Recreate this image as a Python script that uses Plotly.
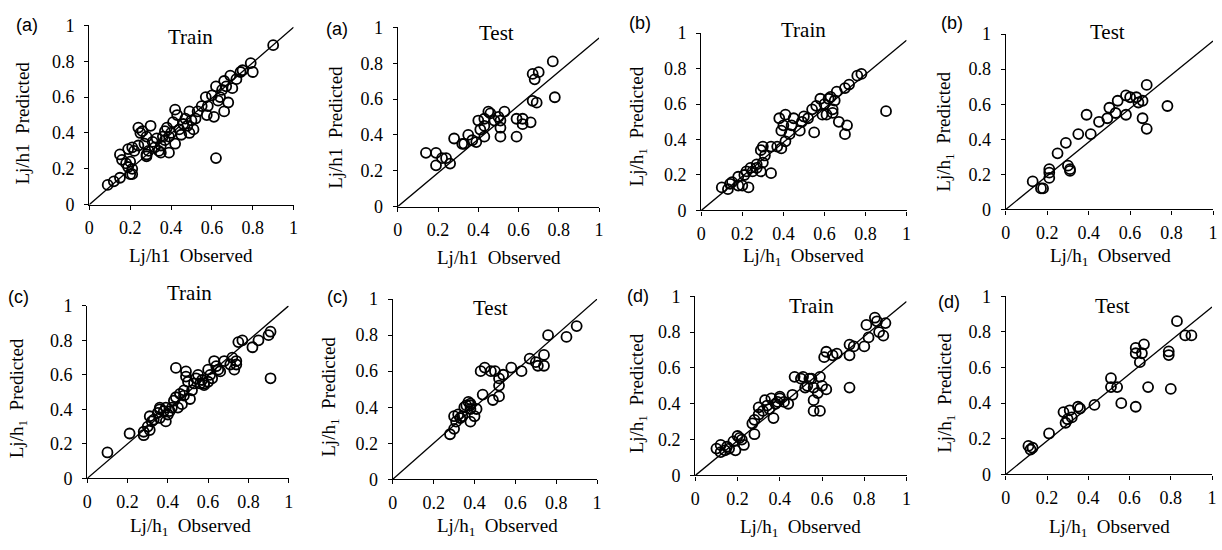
import plotly.graph_objects as go

W, H = 1222, 550

# ---- (a) Lj/h1 ----
a_train_obs = [0.09, 0.12, 0.15, 0.20, 0.21, 0.19, 0.21, 0.18, 0.16, 0.20,
               0.15, 0.19, 0.21, 0.24, 0.28, 0.28, 0.29, 0.32, 0.34, 0.39,
               0.24, 0.26, 0.28, 0.30, 0.33, 0.36, 0.37, 0.39, 0.42, 0.45,
               0.49, 0.41, 0.42, 0.43, 0.47, 0.49, 0.52, 0.55, 0.57, 0.575,
               0.35, 0.37, 0.40, 0.44, 0.46, 0.50, 0.51, 0.48, 0.53, 0.38,
               0.31, 0.27, 0.25, 0.35, 0.22, 0.61, 0.62, 0.60, 0.62, 0.63,
               0.65, 0.66, 0.66, 0.67, 0.68, 0.69, 0.70, 0.72, 0.74, 0.75,
               0.79, 0.80, 0.90, 0.64, 0.58]
a_train_pred = [0.11, 0.13, 0.15, 0.17, 0.17, 0.21, 0.20, 0.23, 0.25, 0.24,
                0.28, 0.31, 0.32, 0.33, 0.27, 0.28, 0.30, 0.32, 0.30, 0.29,
                0.43, 0.41, 0.38, 0.44, 0.37, 0.38, 0.41, 0.38, 0.34, 0.39,
                0.40, 0.46, 0.53, 0.50, 0.48, 0.52, 0.48, 0.55, 0.60, 0.50,
                0.33, 0.36, 0.40, 0.42, 0.45, 0.47, 0.42, 0.44, 0.52, 0.43,
                0.35, 0.34, 0.40, 0.29, 0.30, 0.49, 0.26, 0.61, 0.66, 0.58,
                0.64, 0.69, 0.52, 0.66, 0.57, 0.72, 0.65, 0.70, 0.74, 0.75,
                0.79, 0.74, 0.89, 0.60, 0.55]

a_test_obs = [0.14, 0.19, 0.19, 0.22, 0.24, 0.26, 0.28, 0.32, 0.33, 0.35,
              0.39, 0.37, 0.40, 0.41, 0.43, 0.43, 0.43, 0.45, 0.48, 0.50,
              0.51, 0.51, 0.51, 0.53, 0.46, 0.59, 0.59, 0.62, 0.62, 0.66,
              0.67, 0.69, 0.67, 0.68, 0.70, 0.77, 0.78]
a_test_pred = [0.30, 0.30, 0.23, 0.27, 0.27, 0.24, 0.38, 0.35, 0.35, 0.40,
               0.36, 0.37, 0.48, 0.43, 0.39, 0.45, 0.49, 0.53, 0.48, 0.50,
               0.48, 0.44, 0.39, 0.53, 0.52, 0.49, 0.39, 0.46, 0.49, 0.47,
               0.59, 0.58, 0.74, 0.71, 0.75, 0.81, 0.61]

# ---- (b) Lj/h1 (subscript) ----
b_train_obs = [0.10, 0.13, 0.14, 0.18, 0.20, 0.23, 0.18, 0.21, 0.22, 0.25,
               0.27, 0.29, 0.34, 0.30, 0.29, 0.30, 0.34, 0.37, 0.39, 0.41,
               0.39, 0.40, 0.38, 0.41, 0.44, 0.45, 0.48, 0.49, 0.50, 0.54,
               0.55, 0.59, 0.15, 0.24, 0.31, 0.27, 0.56, 0.58, 0.60, 0.62,
               0.63, 0.64, 0.64, 0.66, 0.67, 0.70, 0.71, 0.70, 0.72, 0.76,
               0.78, 0.90, 0.61, 0.65, 0.52, 0.43]
b_train_pred = [0.13, 0.12, 0.15, 0.14, 0.14, 0.13, 0.19, 0.20, 0.22, 0.22,
                0.24, 0.22, 0.21, 0.27, 0.34, 0.36, 0.36, 0.36, 0.35, 0.39,
                0.45, 0.48, 0.52, 0.54, 0.48, 0.52, 0.45, 0.50, 0.53, 0.57,
                0.44, 0.54, 0.16, 0.24, 0.31, 0.26, 0.59, 0.63, 0.60, 0.63,
                0.64, 0.57, 0.55, 0.67, 0.50, 0.43, 0.48, 0.69, 0.71, 0.76,
                0.77, 0.56, 0.54, 0.62, 0.52, 0.43]

b_test_obs = [0.13, 0.17, 0.18, 0.21, 0.21, 0.21, 0.25, 0.29, 0.30, 0.31,
              0.31, 0.35, 0.39, 0.41, 0.45, 0.49, 0.50, 0.53, 0.54, 0.58,
              0.58, 0.60, 0.63, 0.64, 0.66, 0.66, 0.68, 0.68, 0.78]
b_test_pred = [0.16, 0.12, 0.12, 0.23, 0.18, 0.21, 0.32, 0.38, 0.25, 0.23,
               0.22, 0.43, 0.54, 0.43, 0.50, 0.52, 0.58, 0.55, 0.62, 0.65,
               0.54, 0.64, 0.64, 0.61, 0.62, 0.52, 0.46, 0.71, 0.59]

# ---- (c) Lj/h1 (subscript) ----
c_train_obs = [0.10, 0.21, 0.28, 0.28, 0.31, 0.32, 0.31, 0.35, 0.36, 0.36,
               0.36, 0.39, 0.40, 0.39, 0.41, 0.42, 0.43, 0.44, 0.44, 0.45,
               0.47, 0.48, 0.48, 0.49, 0.49, 0.51, 0.52, 0.53, 0.54, 0.56,
               0.58, 0.58, 0.60, 0.61, 0.60, 0.62, 0.63, 0.64, 0.66, 0.68,
               0.71, 0.74, 0.73, 0.74, 0.75, 0.77, 0.82, 0.85, 0.90, 0.91,
               0.91, 0.50, 0.55, 0.38, 0.33, 0.30, 0.46, 0.57, 0.65, 0.72]
c_train_pred = [0.15, 0.26, 0.25, 0.27, 0.28, 0.33, 0.36, 0.38, 0.40, 0.41,
                0.35, 0.33, 0.37, 0.41, 0.39, 0.41, 0.45, 0.47, 0.64, 0.41,
                0.43, 0.48, 0.51, 0.62, 0.59, 0.46, 0.51, 0.55, 0.58, 0.55,
                0.54, 0.55, 0.63, 0.60, 0.56, 0.58, 0.68, 0.65, 0.62, 0.68,
                0.66, 0.68, 0.63, 0.66, 0.79, 0.80, 0.76, 0.80, 0.83, 0.85,
                0.58, 0.56, 0.60, 0.39, 0.34, 0.30, 0.49, 0.57, 0.63, 0.70]

c_test_obs = [0.28, 0.30, 0.31, 0.30, 0.32, 0.33, 0.35, 0.36, 0.38, 0.38,
              0.38, 0.38, 0.40, 0.41, 0.43, 0.44, 0.45, 0.48, 0.49, 0.50,
              0.52, 0.52, 0.52, 0.54, 0.58, 0.63, 0.67, 0.70, 0.71, 0.74,
              0.74, 0.76, 0.85, 0.90, 0.34, 0.37]
c_test_pred = [0.25, 0.28, 0.32, 0.35, 0.36, 0.34, 0.40, 0.41, 0.42, 0.41,
               0.39, 0.32, 0.35, 0.39, 0.60, 0.47, 0.62, 0.60, 0.44, 0.60,
               0.46, 0.52, 0.56, 0.58, 0.62, 0.60, 0.67, 0.65, 0.63, 0.63,
               0.69, 0.80, 0.79, 0.85, 0.35, 0.43]

# ---- (d) Lj/h1 (subscript) ----
d_train_obs = [0.10, 0.12, 0.14, 0.15, 0.12, 0.19, 0.18, 0.20, 0.22, 0.23,
               0.28, 0.27, 0.28, 0.30, 0.30, 0.33, 0.34, 0.37, 0.36, 0.38,
               0.40, 0.42, 0.44, 0.46, 0.47, 0.50, 0.53, 0.55, 0.56, 0.56,
               0.59, 0.58, 0.51, 0.54, 0.59, 0.52, 0.56, 0.60, 0.62, 0.73,
               0.62, 0.61, 0.65, 0.67, 0.73, 0.75, 0.73, 0.80, 0.81, 0.82,
               0.86, 0.87, 0.89, 0.90, 0.85, 0.16, 0.21, 0.32, 0.39, 0.35,
               0.40]
d_train_pred = [0.15, 0.13, 0.14, 0.16, 0.17, 0.14, 0.19, 0.22, 0.20, 0.17,
                0.23, 0.29, 0.31, 0.34, 0.38, 0.42, 0.39, 0.32, 0.43, 0.40,
                0.44, 0.41, 0.40, 0.45, 0.55, 0.54, 0.50, 0.54, 0.42, 0.36,
                0.36, 0.46, 0.55, 0.54, 0.55, 0.49, 0.49, 0.50, 0.48, 0.49,
                0.69, 0.66, 0.67, 0.68, 0.73, 0.72, 0.67, 0.72, 0.84, 0.77,
                0.86, 0.80, 0.78, 0.85, 0.88, 0.15, 0.21, 0.36, 0.41, 0.37,
                0.43]

d_test_obs = [0.11, 0.12, 0.13, 0.21, 0.28, 0.29, 0.30, 0.31, 0.35, 0.36,
              0.43, 0.51, 0.51, 0.54, 0.56, 0.63, 0.65, 0.63, 0.63, 0.66,
              0.67, 0.69, 0.79, 0.79, 0.80, 0.83, 0.87, 0.90, 0.32]
d_test_pred = [0.16, 0.14, 0.15, 0.23, 0.35, 0.29, 0.31, 0.36, 0.38, 0.37,
               0.39, 0.54, 0.49, 0.49, 0.40, 0.38, 0.63, 0.68, 0.71, 0.68,
               0.73, 0.49, 0.69, 0.67, 0.48, 0.86, 0.78, 0.78, 0.32]

# predicted value reached by each reference line at observed = 1
diag_end = [0.99, 0.94, 0.96, 0.96, 1.00, 1.00, 0.97, 0.94]

tick_vals = [0, 0.2, 0.4, 0.6, 0.8, 1]
tick_text = ["0", "0.2", "0.4", "0.6", "0.8", "1"]

var_plain = "Lj/h1"
var_sub = "Lj/h<sub>1</sub>"
NB = "\u00a0\u00a0"

panels = [
    dict(tag="(a)", name="Train", x=a_train_obs, y=a_train_pred, var=var_plain),
    dict(tag="(a)", name="Test", x=a_test_obs, y=a_test_pred, var=var_plain),
    dict(tag="(b)", name="Train", x=b_train_obs, y=b_train_pred, var=var_sub),
    dict(tag="(b)", name="Test", x=b_test_obs, y=b_test_pred, var=var_sub),
    dict(tag="(c)", name="Train", x=c_train_obs, y=c_train_pred, var=var_sub),
    dict(tag="(c)", name="Test", x=c_test_obs, y=c_test_pred, var=var_sub),
    dict(tag="(d)", name="Train", x=d_train_obs, y=d_train_pred, var=var_sub),
    dict(tag="(d)", name="Test", x=d_test_obs, y=d_test_pred, var=var_sub),
]

# plot-area boxes in pixels: left, right, top, bottom
boxes = [
    (85, 291, 16, 202), (396, 599, 18, 204), (702, 909, 24, 208), (1009, 1218, 25, 207),
    (83, 286, 307, 486), (391, 597, 300, 487), (696, 909, 297, 483), (1009, 1217, 297, 482),
]
# text anchors in pixels
tag_pos = [(22, 16), (335, 20), (640, 13), (955, 13), (14, 298), (335, 298), (638, 297), (952, 303)]
name_pos = [(187, 28), (496, 24), (805, 21), (1112, 23), (186, 294), (490, 309), (813, 307), (1117, 307)]
xt_pos = [(188, 255), (498, 257), (805, 256), (1115, 256), (187, 536), (497, 536), (802, 538), (1114, 538)]
yt_pos = [(18, 117), (333, 122), (638, 121), (948, 126), (13, 403), (328, 401), (638, 398), (948, 397)]

def px(x):
    return x / W

def py(y):
    return 1 - y / H

SERIF = "Liberation Serif"
SANS = "Liberation Sans"

fig = go.Figure()
annotations = []
layout_axes = {}

for i, (p, box) in enumerate(zip(panels, boxes), start=1):
    xa = "x" if i == 1 else f"x{i}"
    ya = "y" if i == 1 else f"y{i}"
    fig.add_trace(go.Scatter(
        x=[0, 1], y=[0, diag_end[i - 1]], mode="lines",
        line=dict(color="black", width=1.3),
        xaxis=xa, yaxis=ya, showlegend=False, hoverinfo="skip",
    ))
    fig.add_trace(go.Scatter(
        x=p["x"], y=p["y"], mode="markers",
        marker=dict(symbol="circle-open", size=10, color="black",
                    line=dict(width=1.8, color="black")),
        xaxis=xa, yaxis=ya, showlegend=False, cliponaxis=False,
    ))
    l, r, t, b = box
    tickfont = dict(family=SERIF, size=18, color="black")
    common = dict(
        range=[0, 1], tickvals=tick_vals, ticktext=tick_text,
        showgrid=False, zeroline=False, showline=True,
        linecolor="black", linewidth=1.3, ticks="outside", ticklen=4,
        tickcolor="black", tickwidth=1.2, tickfont=tickfont,
        fixedrange=True,
    )
    layout_axes[("xaxis" if i == 1 else f"xaxis{i}")] = dict(
        common, domain=[px(l), px(r)], anchor=ya, ticklabelstandoff=3)
    layout_axes[("yaxis" if i == 1 else f"yaxis{i}")] = dict(
        common, domain=[py(b), py(t)], anchor=xa, ticklabelstandoff=6)

    tx, ty = tag_pos[i - 1]
    annotations.append(dict(text=p["tag"], x=px(tx), y=py(ty), xref="paper", yref="paper",
                            showarrow=False, xanchor="center", yanchor="middle",
                            font=dict(family=SANS, size=18, color="black")))
    nx, ny = name_pos[i - 1]
    annotations.append(dict(text=p["name"], x=px(nx), y=py(ny), xref="paper", yref="paper",
                            showarrow=False, xanchor="center", yanchor="middle",
                            font=dict(family=SERIF, size=21, color="black")))
    ax_, ay_ = xt_pos[i - 1]
    annotations.append(dict(text=p["var"] + NB + "Observed", x=px(ax_), y=py(ay_),
                            xref="paper", yref="paper", showarrow=False,
                            xanchor="center", yanchor="middle",
                            font=dict(family=SERIF, size=19, color="black")))
    bx, by = yt_pos[i - 1]
    annotations.append(dict(text=p["var"] + NB + "Predicted", x=px(bx), y=py(by),
                            xref="paper", yref="paper", showarrow=False, textangle=-90,
                            xanchor="center", yanchor="middle",
                            font=dict(family=SERIF, size=19, color="black")))

fig.update_layout(
    width=W, height=H, margin=dict(l=0, r=0, t=0, b=0),
    paper_bgcolor="white", plot_bgcolor="white",
    font=dict(family=SERIF, color="black"),
    annotations=annotations, **layout_axes,
)

fig.write_html("out.html", config={"displayModeBar": False})
